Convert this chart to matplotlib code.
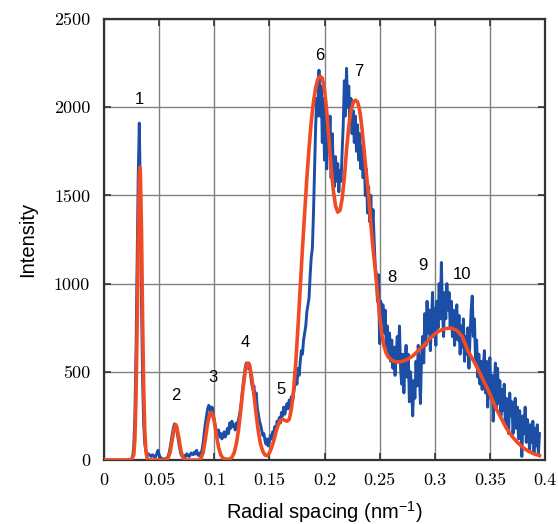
import numpy as np
import matplotlib
matplotlib.use('Agg')
import matplotlib.pyplot as plt

# measured profile (blue), one value per 0.001 nm^-1 from 0 to 0.395
radial = np.round(np.arange(0, 0.3955, 0.001), 3)
intensity = [
    0, 0, 0, 0, 0, 0, 0, 0, 0, 0,
    0, 0, 0, 0, 0, 0, 0, 0, 0, 0,
    0, 0, 0, 2, 3, 5, 20, 80, 250, 600,
    1100, 1600, 1910, 1500, 900, 450, 200, 90, 50, 40,
    35, 30, 25, 20, 30, 25, 15, 20, 40, 55,
    30, 15, 10, 8, 5, 5, 8, 10, 20, 40,
    70, 110, 150, 185, 205, 200, 170, 130, 90, 55,
    30, 20, 15, 25, 20, 35, 30, 20, 25, 40,
    35, 30, 45, 35, 55, 30, 25, 40, 35, 60,
    100, 160, 210, 250, 290, 310, 300, 270, 300, 260,
    230, 190, 160, 140, 170, 130, 150, 120, 140, 160,
    130, 150, 180, 150, 210, 180, 220, 190, 200, 170,
    210, 180, 230, 260, 300, 360, 420, 470, 520, 550,
    545, 520, 540, 480, 430, 400, 420, 350, 380, 300,
    260, 220, 200, 170, 140, 150, 110, 90, 120, 80,
    100, 140, 120, 160, 150, 190, 170, 220, 200, 240,
    210, 270, 250, 300, 260, 290, 320, 290, 340, 310,
    360, 330, 380, 420, 470, 430, 520, 480, 560, 620,
    600, 680, 720, 760, 840, 880, 920, 1050, 1150, 1200,
    1400, 1650, 1900, 2050, 1950, 2210, 1950, 2120, 1800, 2050,
    1700, 1950, 1650, 1900, 1750, 1950, 1600, 1850, 1650, 1550,
    1720, 1580, 1680, 1520, 1640, 1580, 1750, 1900, 2150, 1950,
    2220, 2000, 2120, 1900, 2050, 1850, 1980, 1800, 1950, 1750,
    1900, 1700, 1850, 1650, 1780, 1600, 1750, 1500, 1650, 1400,
    1550, 1350, 1500, 1300, 1420, 1250, 1100, 1050, 900, 1050,
    660, 900, 780, 880, 720, 850, 640, 760, 600, 720,
    560, 680, 520, 640, 480, 600, 700, 560, 760, 520,
    430, 600, 380, 550, 650, 470, 600, 330, 500, 420,
    250, 450, 350, 560, 420, 650, 500, 320, 580, 700,
    550, 830, 650, 900, 720, 850, 620, 780, 950, 700,
    860, 650, 900, 750, 1000, 800, 1120, 850, 700, 950,
    800, 1000, 850, 950, 750, 900, 700, 850, 650, 780,
    880, 680, 820, 600, 760, 640, 800, 560, 700, 600,
    750, 520, 700, 850, 930, 700, 800, 560, 680, 470,
    600, 430, 560, 400, 520, 620, 380, 560, 300, 480,
    580, 350, 480, 220, 420, 550, 300, 520, 320, 450,
    250, 400, 280, 430, 200, 350, 280, 150, 380, 250,
    330, 150, 280, 350, 180, 300, 120, 280, 200, 20,
    250, 150, 300, 100, 230, 180, 50, 200, 100, 220,
    40, 180, 80, 200, 30, 150,
]

# fitted curve (red)
fit_x = [0.000, 0.020, 0.025, 0.027, 0.028, 0.029, 0.030, 0.031, 0.032, 0.0325,
         0.033, 0.034, 0.035, 0.036, 0.037, 0.038, 0.039, 0.040, 0.042, 0.056,
         0.058, 0.060, 0.062, 0.064, 0.065, 0.066, 0.068, 0.070, 0.072, 0.074,
         0.086, 0.088, 0.090, 0.092, 0.094, 0.096, 0.097, 0.098, 0.100, 0.102,
         0.104, 0.106, 0.108, 0.110, 0.114, 0.116, 0.118, 0.120, 0.122, 0.124,
         0.126, 0.128, 0.130, 0.131, 0.132, 0.134, 0.136, 0.138, 0.140, 0.142,
         0.144, 0.146, 0.148, 0.150, 0.152, 0.154, 0.156, 0.158, 0.160, 0.162,
         0.164, 0.166, 0.168, 0.170, 0.172, 0.174, 0.176, 0.178, 0.180, 0.182,
         0.184, 0.186, 0.188, 0.190, 0.192, 0.194, 0.196, 0.198, 0.200, 0.202,
         0.204, 0.206, 0.208, 0.210, 0.212, 0.214, 0.216, 0.218, 0.220, 0.222,
         0.224, 0.226, 0.228, 0.230, 0.232, 0.234, 0.236, 0.238, 0.240, 0.242,
         0.244, 0.246, 0.248, 0.250, 0.252, 0.254, 0.256, 0.258, 0.262, 0.266,
         0.270, 0.275, 0.280, 0.285, 0.290, 0.295, 0.300, 0.305, 0.310, 0.315,
         0.320, 0.325, 0.330, 0.335, 0.340, 0.345, 0.350, 0.355, 0.360, 0.365,
         0.370, 0.375, 0.380, 0.385, 0.390, 0.395]
fit_y = [0, 0, 2, 30, 120, 350, 750, 1250, 1600, 1660,
         1620, 1300, 800, 400, 160, 50, 15, 3, 0, 0,
         10, 45, 120, 185, 200, 190, 120, 45, 10, 0,
         0, 10, 45, 120, 210, 260, 270, 265, 220, 140,
         70, 28, 10, 5, 5, 15, 40, 90, 170, 280,
         400, 500, 548, 550, 540, 470, 370, 260, 160, 90,
         50, 28, 25, 40, 70, 110, 160, 200, 225, 230,
         225, 220, 230, 290, 400, 560, 760, 980, 1200, 1400,
         1600, 1770, 1920, 2030, 2110, 2160, 2175, 2165, 2100, 1980,
         1820, 1660, 1530, 1440, 1405, 1415, 1480, 1600, 1760, 1890,
         1980, 2025, 2040, 2030, 1980, 1880, 1750, 1620, 1500, 1340,
         1200, 1080, 950, 820, 710, 645, 605, 582, 562, 555,
         558, 570, 590, 620, 650, 685, 715, 735, 745, 748,
         735, 700, 620, 565, 505, 440, 375, 300, 240, 180,
         135, 100, 70, 50, 35, 25]

peak_labels = ['1', '2', '3', '4', '5', '6', '7', '8', '9', '10']
peak_x = [0.0318, 0.0653, 0.0989, 0.128, 0.1605, 0.196, 0.2313, 0.2612, 0.2893, 0.3247]
peak_y = [2041, 368, 465, 669, 402, 2296, 2200, 1037, 1100, 1049]

xtick_vals = [0, 0.05, 0.1, 0.15, 0.2, 0.25, 0.3, 0.35, 0.4]
xtick_text = ['0', '0.05', '0.1', '0.15', '0.2', '0.25', '0.3', '0.35', '0.4']
ytick_vals = [0, 500, 1000, 1500, 2000, 2500]

plt.rcParams['mathtext.fontset'] = 'custom'
plt.rcParams['mathtext.rm'] = 'Liberation Sans'

fig = plt.figure(figsize=(5.58, 5.24), dpi=100)
ax = fig.add_axes([0.1864, 0.1221, 0.7903, 0.8416])

ax.plot(radial, intensity, color='#1c4ea6', lw=2.1, zorder=3)
ax.plot(fit_x, fit_y, color='#f04b24', lw=2.6, zorder=4)

for lab, px, py in zip(peak_labels, peak_x, peak_y):
    ax.text(px, py, lab, ha='center', va='center', fontsize=12,
            family='Liberation Sans', zorder=5)

ax.set_xlim(0, 0.4)
ax.set_ylim(0, 2500)
ax.set_xticks(xtick_vals)
ax.set_xticklabels(xtick_text)
ax.set_yticks(ytick_vals)
ax.set_yticklabels([str(v) for v in ytick_vals])
for t in ax.get_xticklabels() + ax.get_yticklabels():
    t.set_family('cmr10')
    t.set_fontsize(13)

ax.grid(True, color='#808080', lw=1.0, zorder=1)
ax.tick_params(axis='x', pad=9)
ax.tick_params(axis='y', pad=10)
ax.tick_params(direction='in', length=5, width=1.2, top=True, right=True,
               color='#333333')
for s in ax.spines.values():
    s.set_linewidth(1.6)
    s.set_color('#333333')

ax.set_xlabel('Radial spacing (nm$^{\\mathrm{-1}}$)', fontsize=14.5,
              family='Liberation Sans', labelpad=8)
ax.set_ylabel('Intensity', fontsize=14.5, family='Liberation Sans', labelpad=12)

fig.savefig('out.png', dpi=100)
